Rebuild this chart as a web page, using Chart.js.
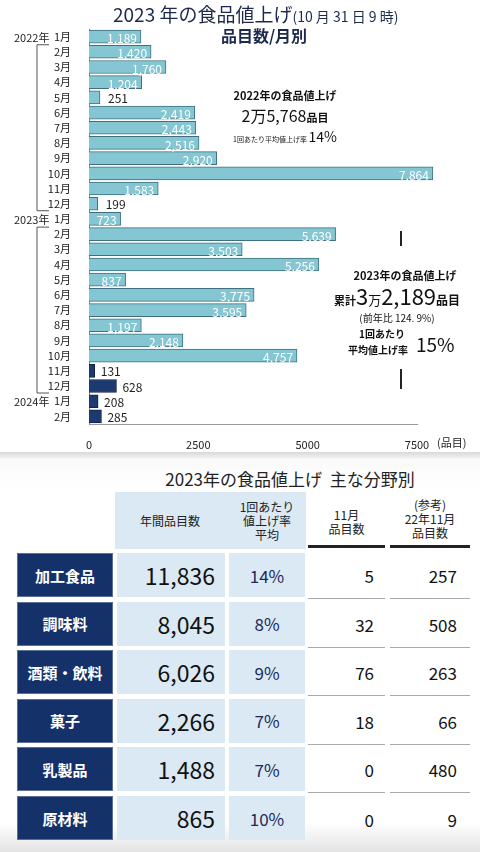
<!DOCTYPE html>
<html><head><meta charset="utf-8">
<script src="https://cdn.jsdelivr.net/npm/chart.js@4"></script>
<style>
html,body{margin:0;padding:0;width:480px;height:852px;overflow:hidden;background:#fff;font-family:"Noto Sans CJK JP","Noto Sans",sans-serif;}
#wrap{position:absolute;left:0;top:0;width:480px;height:452px;}
#tbl{position:absolute;left:0;top:452px;width:480px;height:400px;background:linear-gradient(#d8d8d8 0px,#fafafa 8px,#fff 40px,#fff 370px,#e4e4e4 400px);}
.c{position:absolute;display:flex;align-items:center;justify-content:center;box-sizing:border-box;}
</style></head><body>
<div id="wrap"><canvas id="ch" width="480" height="452"></canvas></div>
<div id="tbl"></div>
<script>
const months=['1月','2月','3月','4月','5月','6月','7月','8月','9月','10月','11月','12月','1月','2月','3月','4月','5月','6月','7月','8月','9月','10月','11月','12月','1月','2月'];
const values=[1189,1420,1760,1204,251,2419,2443,2516,2920,7864,1583,199,723,5639,3503,5256,837,3775,3595,1197,2148,4757,131,628,208,285];
const yearLabels=[[0,'2022年'],[12,'2023年'],[24,'2024年']];
const xTicks=[0,2500,5000,7500];
const categories=['加工食品','調味料','酒類・飲料','菓子','乳製品','原材料'];
const annualItems=['11,836','8,045','6,026','2,266','1,488','865'];
const avgRate=['14%','8%','9%','7%','7%','10%'];
const novItems=['5','32','76','18','0','0'];
const nov22Items=['257','508','263','66','480','9'];

const light='#84c7d3', dark='#1d3a70';
const colors=values.map((v,i)=>i>=22?dark:light);
const borders=values.map((v,i)=>i>=22?'#0f2347':'#3d6f80');
const F='"Noto Sans CJK JP","Noto Sans",sans-serif';

function seq(ctx,x,y,parts){parts.forEach(([f,t])=>{ctx.font=f;ctx.fillText(t,x,y);x+=ctx.measureText(t).width;});return x;}
function seqW(ctx,parts){let w=0;parts.forEach(([f,t])=>{ctx.font=f;w+=ctx.measureText(t).width;});return w;}

const deco={id:'deco',afterDatasetsDraw(c){
  const ctx=c.ctx,y=c.scales.y;
  ctx.save();
  const meta=c.getDatasetMeta(0);
  meta.data.forEach((b,i)=>{
    const v=values[i];const s=v.toLocaleString('en-US');
    ctx.font='12px '+F;ctx.textBaseline='middle';
    if(v<700){ctx.fillStyle='#222';ctx.textAlign='left';ctx.fillText(s,b.x+(i>=22?6:8),b.y+1);}
    else{ctx.fillStyle='#fff';ctx.textAlign='right';ctx.fillText(s,b.x-4,b.y+2);}
  });
  ctx.fillStyle='#222';ctx.font='11px '+F;ctx.textAlign='left';ctx.textBaseline='middle';
  yearLabels.forEach(([i,t])=>ctx.fillText(t,14,y.getPixelForValue(i)+1));
  ctx.strokeStyle='#555';ctx.lineWidth=1;
  [[1,11],[13,23]].forEach(([a,b])=>{
    const y0=y.getPixelForValue(a)-7,y1=y.getPixelForValue(b)+7;
    ctx.beginPath();ctx.moveTo(49,y0);ctx.lineTo(37,y0);ctx.lineTo(37,y1);ctx.lineTo(49,y1);ctx.stroke();
  });
  ctx.font='11px '+F;ctx.fillStyle='#222';ctx.textAlign='left';ctx.fillText('(品目)',437,443);
  // title
  ctx.fillStyle='#1d2a4d';ctx.textBaseline='alphabetic';ctx.textAlign='left';
  seq(ctx,113,22,[['19px '+F,'2023 年の食品値上げ'],['14px '+F,'(10 月 31 日 9 時)']]);
  ctx.textAlign='center';ctx.font='bold 16px '+F;ctx.fillText('品目数/月別',264,42);
  // 2022 annotation
  ctx.fillStyle='#111';
  ctx.font='bold 11px '+F;ctx.fillText('2022年の食品値上げ',285,100);
  ctx.textAlign='left';
  let p=[['16px '+F,'2万5,768'],['bold 11px '+F,'品目']];
  seq(ctx,285-seqW(ctx,p)/2,122,p);
  p=[['7px '+F,'1回あたり平均値上げ率 '],['14px '+F,'14%']];
  seq(ctx,285-seqW(ctx,p)/2,142,p);
  // 2023 annotation
  ctx.fillStyle='#222';ctx.fillRect(400,231,2,15);ctx.fillRect(400,369,2,20);
  ctx.fillStyle='#111';ctx.textAlign='center';
  ctx.font='bold 11px '+F;ctx.fillText('2023年の食品値上げ',405,280);
  ctx.textAlign='left';
  p=[['bold 11px '+F,'累計'],['22px '+F,'3'],['13px '+F,'万'],['22px '+F,'2,189'],['bold 12px '+F,'品目']];
  seq(ctx,397-seqW(ctx,p)/2,305,p);
  ctx.font='10px '+F;ctx.textAlign='center';ctx.fillText('(前年比 124. 9%)',397,322);
  ctx.font='bold 10px '+F;ctx.fillText('1回あたり',382,338);ctx.fillText('平均値上げ率',378,354);
  ctx.font='19px '+F;ctx.textAlign='left';ctx.fillText('15%',416,352);
  ctx.restore();
}};

new Chart(document.getElementById('ch'),{
  type:'bar',
  data:{labels:months,datasets:[{data:values,backgroundColor:colors,borderColor:borders,borderWidth:1,barThickness:13,clip:false}]},
  options:{indexAxis:'y',responsive:false,animation:false,
    layout:{padding:{top:29,right:63,left:0,bottom:0}},
    plugins:{legend:{display:false},tooltip:{enabled:false}},
    scales:{
      x:{min:0,max:7500,afterBuildTicks(s){s.ticks=xTicks.map(v=>({value:v}));},
        afterFit(s){s.height=28;},
        grid:{display:false},border:{display:true,color:'#999'},
        ticks:{color:'#222',font:{size:11,family:F},padding:6,maxRotation:0,callback:v=>String(v)}},
      y:{afterFit(s){s.width=89;},grid:{display:false},border:{display:true,color:'#888'},
        ticks:{color:'#222',font:{size:11,family:F},padding:10,autoSkip:false}}
    }},
  plugins:[deco]
});

const T=document.getElementById('tbl');
function cell(x,y,w,h,html,st){const d=document.createElement('div');d.className='c';d.style.cssText+=`left:${x}px;top:${y}px;width:${w}px;height:${h}px;`+(st||'');d.innerHTML=html;T.appendChild(d);}
cell(100,8,380,36,'2023年の食品値上げ&nbsp;&nbsp;主な分野別','font-size:17px;color:#222;');
cell(115,40,191,57,'','background:#dbe9f5;');
cell(115,40,110,57,'年間品目数','font-size:12px;color:#222;');
cell(229,40,76,57,'1回あたり<br>値上げ率<br>平均','font-size:12px;line-height:14px;color:#222;text-align:center;');
cell(308,46,77,50,'11月<br>品目数','font-size:12px;line-height:14px;color:#222;text-align:center;border-bottom:3px solid #222;');
cell(390,40,80,56,'(参考)<br>22年11月<br>品目数','font-size:12px;line-height:14px;color:#222;text-align:center;border-bottom:3px solid #222;');
categories.forEach((c,i)=>{
  const y=101+i*48.6,h=44;
  cell(17,y,96,h,c,'background:#14316a;color:#fff;font-weight:bold;font-size:15px;border:1px solid #5a6e96;');
  cell(117,y,108,h,annualItems[i],'background:#dbe9f5;justify-content:flex-end;padding-right:10px;font-size:23px;color:#111;');
  cell(229,y,76,h,avgRate[i],'background:#dbe9f5;font-size:17px;color:#1d2a5a;');
  const bb=i<5?'border-bottom:1px solid #aaa;':'';
  cell(308,y,77,h+2,novItems[i],'justify-content:flex-end;padding-right:11px;font-size:17px;color:#111;'+bb);
  cell(390,y,80,h+2,nov22Items[i],'justify-content:flex-end;padding-right:13px;font-size:17px;color:#111;'+bb);
});
</script></body></html>
